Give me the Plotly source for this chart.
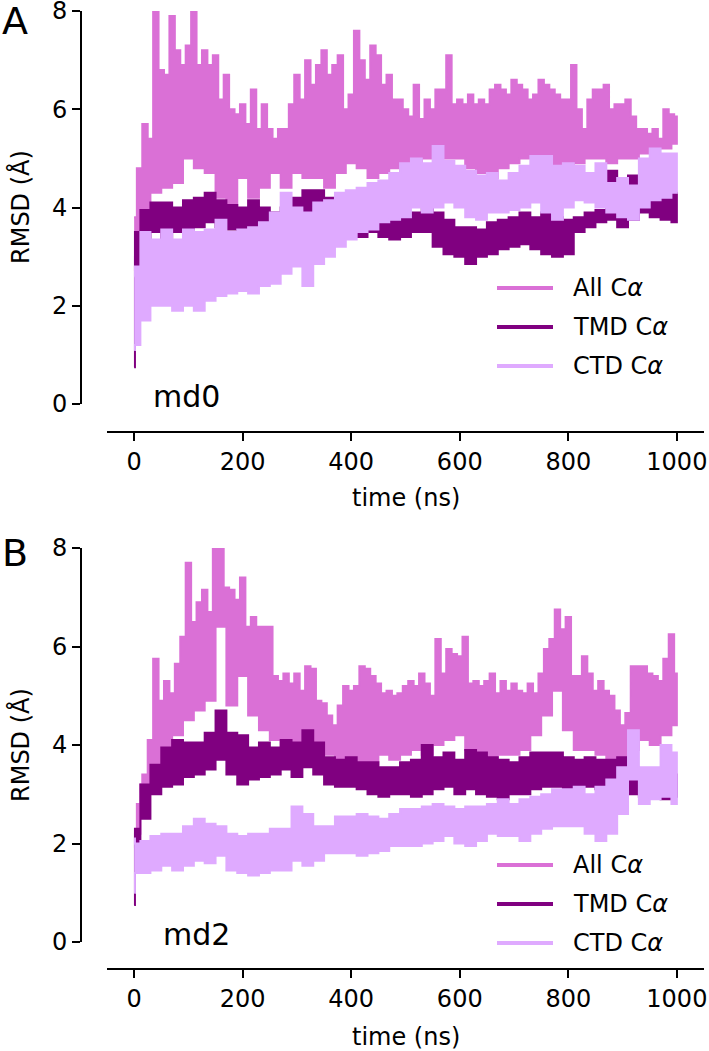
import plotly.graph_objects as go

# ---------------- data (RMSD in Angstrom) ----------------
t_fine = list(range(0, 1001, 10))               # time grid for the upper envelope of "All Ca"
t_coarse = [0, 3] + list(range(20, 1001, 20))   # time grid for the other envelopes

series_names = ["All C<i>α</i>", "TMD C<i>α</i>", "CTD C<i>α</i>"]
series_colors = ["#DA70D6", "#800080", "#DFAAFF"]
x_ticks = [0, 200, 400, 600, 800, 1000]
y_ticks = [0, 2, 4, 6, 8]
panel_letters = ["A", "B"]
run_labels = ["md0", "md2"]

# ---- md0 ----
md0_all_hi = [3.8, 4.8, 5.7, 5.4, 8.0, 6.8, 6.7, 7.9, 7.2, 6.9,
              7.3, 8.0, 6.9, 7.2, 6.9, 7.1, 6.2, 6.7, 6.0, 5.9,
              6.1, 5.7, 6.4, 5.6, 6.1, 5.6, 5.4, 5.6, 5.6, 6.1,
              6.7, 6.2, 7.0, 6.5, 6.9, 7.2, 6.7, 6.9, 7.1, 6.0,
              6.3, 7.6, 7.0, 6.6, 7.3, 7.1, 6.5, 6.7, 6.2, 6.2,
              6.0, 5.85, 6.5, 5.8, 6.2, 6.0, 6.4, 6.4, 7.1, 6.1,
              6.2, 6.1, 6.3, 6.1, 6.2, 6.1, 6.4, 6.5, 6.4, 6.3,
              6.6, 6.5, 6.4, 6.2, 6.3, 6.6, 6.5, 6.4, 6.3, 6.2,
              6.2, 6.9, 6.0, 5.6, 6.2, 6.4, 6.4, 6.5, 6.0, 6.1,
              6.1, 6.2, 5.85, 5.6, 5.6, 5.5, 5.6, 5.4, 6.0, 5.9,
              5.85]
md0_all_lo = [2.7, 3.0,
              3.9, 4.3, 4.4, 4.5, 5.0, 4.8, 4.7, 4.2, 4.0, 4.6,
              4.2, 4.4, 4.7, 4.4, 4.7, 4.6, 4.6, 4.4, 4.7, 4.9,
              4.8, 4.6, 4.7, 4.8, 4.7, 4.8, 5.0, 5.2, 5.0, 5.0,
              4.8, 4.7, 4.6, 4.8, 4.9, 5.0, 5.0, 4.9, 4.8, 4.7,
              4.9, 5.0, 5.0, 4.9, 5.0, 5.0, 5.1, 5.2, 5.2, 5.3]
md0_tmd_hi = [0.9, 3.5,
              3.95, 4.1, 4.1, 4.0, 4.15, 4.2, 4.3, 4.15, 4.05, 4.0,
              4.15, 4.0, 3.9, 4.0, 4.2, 4.35, 4.35, 4.2, 3.9, 3.7,
              3.6, 3.8, 3.75, 3.8, 3.9, 3.9, 4.0, 3.9, 3.75, 3.6,
              3.6, 3.55, 3.7, 3.75, 3.8, 3.9, 3.8, 3.9, 3.8, 3.75,
              3.8, 3.9, 3.95, 4.75, 4.0, 4.65, 4.2, 4.15, 4.2, 4.3]
md0_tmd_lo = [0.75, 2.7,
              3.35, 3.5, 3.2, 3.5, 3.55, 3.6, 3.7, 3.6, 3.55, 3.5,
              3.4, 3.35, 3.4, 3.6, 3.6, 3.65, 3.7, 3.9, 3.5, 3.4,
              3.4, 3.5, 3.4, 3.35, 3.4, 3.5, 3.5, 3.2, 3.05, 3.0,
              2.85, 3.0, 3.05, 3.15, 3.2, 3.25, 3.15, 3.05, 3.0, 3.05,
              3.5, 3.6, 3.7, 3.75, 3.6, 3.75, 3.9, 3.8, 3.75, 3.7]
md0_ctd_hi = [2.6, 2.8,
              3.5, 3.35, 3.55, 3.35, 3.55, 3.5, 3.55, 3.75, 3.5, 3.55,
              3.6, 3.7, 3.9, 4.3, 4.0, 3.9, 4.1, 4.15, 4.3, 4.35,
              4.4, 4.5, 4.55, 4.7, 4.9, 5.0, 4.9, 5.25, 4.95, 4.85,
              4.75, 4.65, 4.7, 4.55, 4.7, 4.85, 5.05, 5.05, 4.85, 4.9,
              4.85, 4.7, 4.9, 4.5, 4.6, 4.45, 5.0, 5.2, 5.1, 5.1]
md0_ctd_lo = [1.1, 1.2,
              1.7, 2.0, 2.0, 1.9, 2.0, 1.9, 2.1, 2.2, 2.25, 2.3,
              2.25, 2.4, 2.45, 2.65, 2.8, 2.4, 2.85, 3.0, 3.2, 3.35,
              3.5, 3.55, 3.7, 3.75, 3.8, 4.0, 3.9, 4.0, 4.1, 4.0,
              3.8, 3.75, 3.9, 3.9, 3.95, 4.0, 4.1, 3.9, 3.75, 4.0,
              4.15, 4.1, 4.0, 3.9, 3.8, 3.75, 4.0, 4.15, 4.2, 4.3]

# ---- md2 ----
md2_all_hi = [2.2, 2.8, 3.4, 4.1, 5.75, 4.9, 5.3, 5.05, 5.65, 6.2,
              7.7, 6.5, 6.9, 7.15, 6.7, 8.0, 8.0, 7.2, 7.15, 6.95,
              7.4, 6.4, 6.6, 6.4, 6.4, 6.4, 5.4, 5.3, 5.45, 5.25,
              5.45, 5.1, 5.6, 5.55, 4.9, 4.85, 4.6, 4.4, 4.8, 5.2,
              5.1, 5.2, 5.6, 5.55, 5.4, 5.25, 5.05, 5.1, 5.0, 5.05,
              5.2, 5.3, 5.2, 5.45, 5.25, 5.0, 6.15, 5.45, 5.95, 5.85,
              5.8, 6.2, 5.25, 5.3, 5.2, 5.3, 5.45, 5.05, 5.3, 5.1,
              5.25, 5.1, 5.05, 5.25, 5.05, 5.45, 5.95, 6.15, 6.75, 6.35,
              6.6, 5.4, 5.4, 5.8, 5.45, 5.1, 5.3, 5.1, 5.0, 4.7,
              4.4, 4.65, 5.6, 5.6, 5.6, 5.45, 5.4, 5.3, 5.75, 6.25,
              5.45]
md2_all_lo = [1.9, 2.2,
              3.2, 3.6, 3.9, 4.2, 4.5, 4.7, 4.9, 6.4, 4.8, 5.4,
              4.6, 4.3, 4.1, 3.9, 3.8, 3.7, 3.9, 3.8, 3.6, 3.7,
              3.5, 3.6, 3.8, 3.7, 3.8, 3.9, 3.8, 4.0, 4.1, 4.2,
              3.9, 3.8, 3.7, 3.8, 3.8, 3.9, 4.2, 4.6, 5.1, 4.3,
              3.9, 3.9, 3.8, 3.7, 3.7, 3.9, 4.1, 4.0, 4.2, 4.4]
md2_tmd_hi = [0.9, 2.3,
              3.2, 3.6, 3.95, 4.1, 4.05, 4.05, 4.25, 4.7, 4.25, 4.2,
              3.95, 4.05, 3.95, 4.1, 4.05, 4.3, 4.05, 3.75, 3.7, 3.75,
              3.65, 3.65, 3.55, 3.55, 3.65, 3.7, 4.0, 3.75, 3.85, 3.7,
              3.9, 3.85, 3.75, 3.7, 3.65, 3.75, 3.85, 3.85, 3.85, 3.75,
              3.7, 3.75, 3.7, 3.7, 3.75, 3.5, 3.4, 3.5, 3.3, 3.4]
md2_tmd_lo = [0.75, 1.95,
              2.5, 3.0, 3.15, 3.2, 3.35, 3.4, 3.5, 3.7, 3.4, 3.2,
              3.3, 3.35, 3.4, 3.5, 3.35, 3.55, 3.4, 3.2, 3.15, 3.15,
              3.1, 3.0, 2.95, 3.0, 3.0, 2.95, 3.0, 3.1, 3.15, 3.0,
              3.1, 3.0, 2.95, 2.9, 3.0, 3.0, 3.1, 3.15, 3.15, 3.1,
              3.15, 3.15, 3.1, 3.0, 3.1, 3.0, 2.95, 3.0, 2.9, 2.95]
md2_ctd_hi = [2.1, 2.0,
              2.05, 2.15, 2.2, 2.2, 2.35, 2.5, 2.4, 2.35, 2.2, 2.15,
              2.2, 2.2, 2.3, 2.3, 2.75, 2.6, 2.35, 2.35, 2.55, 2.55,
              2.6, 2.55, 2.5, 2.6, 2.7, 2.7, 2.75, 2.8, 2.75, 2.7,
              2.75, 2.75, 2.8, 2.9, 2.8, 2.9, 2.95, 3.0, 3.1, 3.1,
              3.15, 3.0, 3.15, 3.3, 3.55, 4.3, 3.55, 3.55, 4.0, 3.85]
md2_ctd_lo = [1.0, 1.4,
              1.4, 1.45, 1.55, 1.45, 1.55, 1.65, 1.6, 1.75, 1.45, 1.4,
              1.35, 1.4, 1.45, 1.45, 1.65, 1.55, 1.65, 1.8, 1.8, 1.8,
              1.75, 1.8, 1.85, 1.95, 1.95, 1.95, 2.0, 2.05, 2.15, 2.0,
              1.95, 2.05, 2.2, 2.15, 2.15, 2.05, 2.2, 2.3, 2.35, 2.35,
              2.35, 2.2, 2.05, 2.2, 2.6, 3.3, 2.8, 2.9, 2.95, 2.8]

panels_data = [
    [(md0_all_hi, t_fine, md0_all_lo), (md0_tmd_hi, t_coarse, md0_tmd_lo), (md0_ctd_hi, t_coarse, md0_ctd_lo)],
    [(md2_all_hi, t_fine, md2_all_lo), (md2_tmd_hi, t_coarse, md2_tmd_lo), (md2_ctd_hi, t_coarse, md2_ctd_lo)],
]

# ---------------- layout helpers (target pixel -> paper) ----------------
W, H = 709, 1051
OFF = 0   # the page body margin is removed below, so the figure starts at (0, 0)
def PX(x):
    return (x - OFF) / W
def PY(y):
    return 1 - (y - OFF) / H

FONT = "DejaVu Sans"
panel_geo = [
    dict(y0=404, y8=11, xline=432, xtitle=498, letter=-3, run=(187, 397),
         legend_rows=(288, 327, 366), ytitle=207),
    dict(y0=942, y8=548, xline=969, xtitle=1037, letter=529, run=(196, 934),
         legend_rows=(865, 904, 943), ytitle=745),
]

fig = go.Figure()
for p, series in enumerate(panels_data):
    xa = "x" if p == 0 else "x2"
    ya = "y" if p == 0 else "y2"
    for (hi, t_hi, lo), color in zip(series, series_colors):
        xs = list(t_hi) + list(t_coarse)[::-1]
        ys = list(hi) + list(lo)[::-1]
        fig.add_trace(go.Scatter(
            x=xs, y=ys, mode="lines", fill="toself", fillcolor=color,
            line=dict(color=color, width=2, shape="hvh"),
            xaxis=xa, yaxis=ya, showlegend=False, hoverinfo="skip"))

axis_common = dict(showline=True, linecolor="black", linewidth=2, ticks="outside",
                   ticklen=8, tickwidth=2, tickcolor="black", showgrid=False,
                   zeroline=False, automargin=False, ticklabeloverflow="allow",
                   tickfont=dict(family=FONT, size=24, color="black"))

layout = dict(width=W, height=H, margin=dict(l=0, r=0, t=0, b=0, pad=0, autoexpand=False),
              autosize=False, paper_bgcolor="white", plot_bgcolor="white", showlegend=False)
annotations = []
shapes = []
for p, g in enumerate(panel_geo):
    sx = "" if p == 0 else "2"
    layout["xaxis" + sx] = dict(axis_common, domain=[PX(107), PX(704)], range=[-50, 1050],
                                anchor="free", position=PY(g["xline"]), tickvals=x_ticks)
    layout["yaxis" + sx] = dict(axis_common, domain=[PY(g["y0"]), PY(g["y8"])], range=[0, 8],
                                anchor="free", position=PX(81), tickvals=y_ticks)
    annotations.append(dict(text="time (ns)", x=PX(405.5), y=PY(g["xtitle"]), xref="paper", yref="paper",
                            showarrow=False, font=dict(family=FONT, size=24, color="black"),
                            xanchor="center", yanchor="middle"))
    annotations.append(dict(text="RMSD (Å)", x=PX(20), y=PY(g["ytitle"]), xref="paper", yref="paper",
                            showarrow=False, textangle=-90, font=dict(family=FONT, size=24, color="black"),
                            xanchor="center", yanchor="middle"))
    annotations.append(dict(text=panel_letters[p], x=PX(0), y=PY(g["letter"]), xref="paper", yref="paper",
                            showarrow=False, font=dict(family=FONT, size=38, color="black"),
                            xanchor="left", yanchor="top"))
    annotations.append(dict(text=run_labels[p], x=PX(g["run"][0]), y=PY(g["run"][1]), xref="paper",
                            yref="paper", showarrow=False, font=dict(family=FONT, size=30, color="black"),
                            xanchor="center", yanchor="middle"))
    for name, color, ry in zip(series_names, series_colors, g["legend_rows"]):
        shapes.append(dict(type="line", xref="paper", yref="paper", x0=PX(497), x1=PX(553),
                           y0=PY(ry), y1=PY(ry), line=dict(color=color, width=4)))
        annotations.append(dict(text=name, x=PX(571), y=PY(ry), xref="paper", yref="paper",
                                showarrow=False, font=dict(family=FONT, size=24, color="black"),
                                xanchor="left", yanchor="middle"))

layout["annotations"] = annotations
layout["shapes"] = shapes
fig.update_layout(**layout)
fig.write_html("out.html", config={"displayModeBar": False},
               post_script="document.body.style.margin='0';")
